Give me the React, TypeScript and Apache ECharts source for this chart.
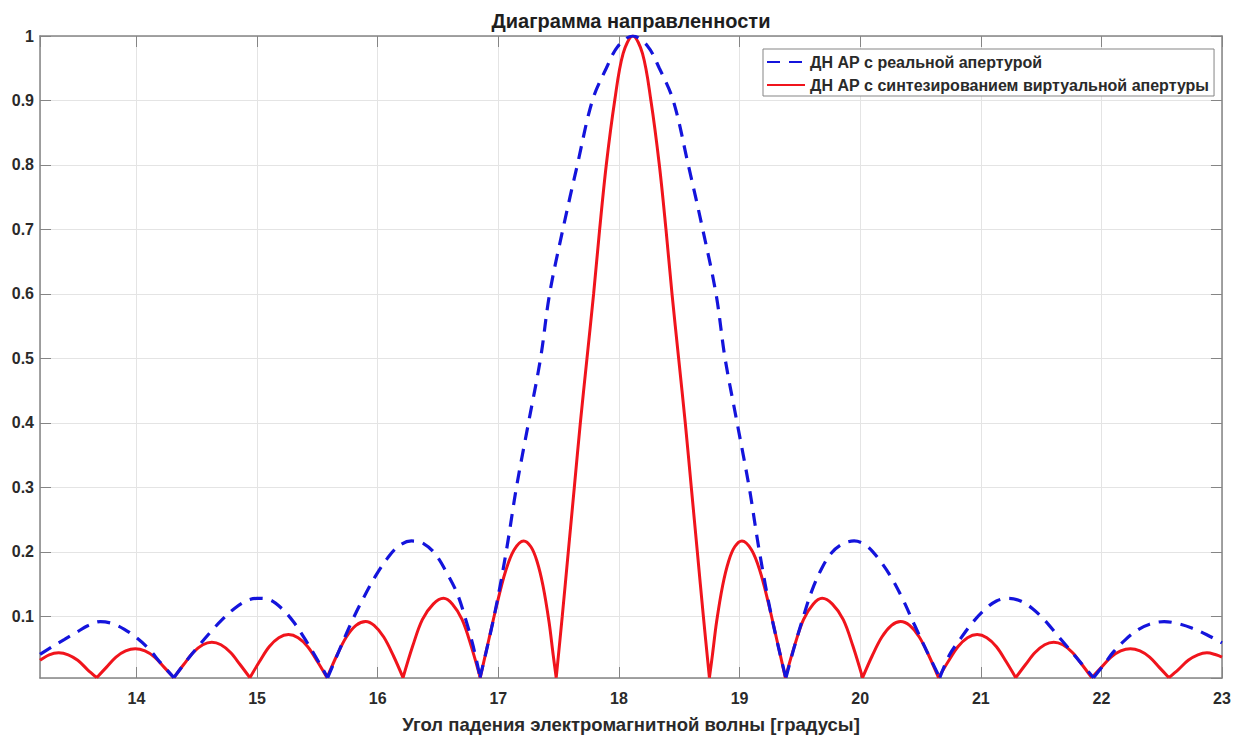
import React, { useEffect, useRef } from "react";
import * as echarts from "echarts";

type Pt = [number, number];

const FONT = "'Liberation Sans', Arial, Helvetica, sans-serif";
const AXIS_COLOR = "#858585";
const GRID_COLOR = "#e4e4e4";
const TEXT_COLOR = "#2a2a2a";

const REAL_NAME = "ДН АР с реальной апертурой";
const VIRTUAL_NAME = "ДН АР с синтезированием виртуальной апертуры";
const TITLE = "Диаграмма направленности";
const X_NAME = "Угол падения электромагнитной волны [градусы]";

// Angle range (degrees) and normalized gain range
const X_MIN = 13.2;
const X_MAX = 23;
const Y_MIN = 0.0045;
const Y_MAX = 1;

// Real aperture pattern, lobe by lobe: [angle, gain]
const realLobe1: Pt[] = [
  [13.2, 0.041], [13.3, 0.053], [13.4, 0.064], [13.5, 0.075], [13.6, 0.086], [13.7, 0.092],
  [13.8, 0.089], [13.9, 0.08], [14.0, 0.067], [14.1, 0.05], [14.2, 0.028], [14.31, 0.005],
];
const realLobe2: Pt[] = [
  [14.31, 0.005], [14.41, 0.03], [14.51, 0.053], [14.61, 0.075], [14.71, 0.095], [14.81, 0.112],
  [14.92, 0.125], [15.0, 0.128], [15.1, 0.126], [15.2, 0.113], [15.3, 0.092], [15.4, 0.064],
  [15.49, 0.036], [15.585, 0.005],
];
const realLobe3: Pt[] = [
  [15.585, 0.005], [15.68, 0.047], [15.78, 0.09], [15.88, 0.128], [15.98, 0.162], [16.08, 0.19],
  [16.18, 0.21], [16.28, 0.217], [16.38, 0.213], [16.48, 0.196], [16.58, 0.165], [16.66, 0.135],
  [16.73, 0.095], [16.79, 0.055], [16.85, 0.005],
];
const realMain: Pt[] = [
  [16.848, 0.005], [16.965, 0.1], [17.065, 0.2], [17.15, 0.3], [17.25, 0.4], [17.35, 0.5],
  [17.425, 0.6], [17.535, 0.7], [17.655, 0.8], [17.78, 0.9], [17.895, 0.95], [17.995, 0.985],
  [18.115, 1.0],
  [18.235, 0.985], [18.335, 0.95], [18.45, 0.9], [18.575, 0.8], [18.695, 0.7], [18.805, 0.6],
  [18.88, 0.5], [18.98, 0.4], [19.08, 0.3], [19.165, 0.2], [19.265, 0.1], [19.383, 0.005],
];
const realLobe3r: Pt[] = [
  [19.385, 0.005], [19.45, 0.05], [19.53, 0.1], [19.6, 0.14], [19.68, 0.174], [19.76, 0.198],
  [19.85, 0.212], [19.95, 0.217], [20.05, 0.21], [20.15, 0.19], [20.25, 0.163], [20.35, 0.128],
  [20.45, 0.087], [20.55, 0.047], [20.66, 0.005],
];
const realLobe2r: Pt[] = [
  [20.66, 0.005], [20.74, 0.04], [20.83, 0.065], [20.93, 0.09], [21.03, 0.11], [21.13, 0.124],
  [21.23, 0.128], [21.33, 0.124], [21.43, 0.112], [21.53, 0.094], [21.63, 0.072], [21.73, 0.05],
  [21.83, 0.028], [21.935, 0.005],
];
const realLobe1r: Pt[] = [
  [21.935, 0.005], [22.02, 0.025], [22.1, 0.045], [22.2, 0.064], [22.3, 0.079], [22.4, 0.088],
  [22.52, 0.092], [22.63, 0.089], [22.75, 0.082], [22.87, 0.072], [23.0, 0.059],
];

// Synthesized virtual aperture pattern, lobe by lobe: [angle, gain]
const virtLobe7: Pt[] = [
  [13.2, 0.032], [13.276, 0.0405], [13.355, 0.0435], [13.434, 0.0405], [13.513, 0.032], [13.591, 0.018], [13.67, 0.005],
];
const virtLobe6: Pt[] = [
  [13.67, 0.005], [13.75, 0.021], [13.83, 0.037], [13.91, 0.0465], [13.99, 0.05],
  [14.07, 0.0465], [14.15, 0.037], [14.23, 0.021], [14.31, 0.005],
];
const virtLobe5: Pt[] = [
  [14.31, 0.005], [14.39, 0.025], [14.47, 0.044], [14.55, 0.056], [14.625, 0.06],
  [14.7, 0.056], [14.78, 0.044], [14.86, 0.025], [14.94, 0.005],
];
const virtLobe4: Pt[] = [
  [14.94, 0.005], [15.02, 0.03], [15.1, 0.053], [15.18, 0.067], [15.26, 0.072],
  [15.34, 0.067], [15.42, 0.053], [15.5, 0.03], [15.58, 0.005],
];
const virtLobe3: Pt[] = [
  [15.58, 0.005], [15.66, 0.039], [15.74, 0.068], [15.82, 0.086], [15.9, 0.092],
  [15.97, 0.086], [16.05, 0.068], [16.13, 0.039], [16.21, 0.005],
];
const virtLobe2: Pt[] = [
  [16.21, 0.005], [16.29, 0.054], [16.37, 0.095], [16.46, 0.119], [16.545, 0.128],
  [16.62, 0.119], [16.7, 0.095], [16.775, 0.054], [16.85, 0.005],
];
const virtLobe1: Pt[] = [
  [16.85, 0.005], [16.92, 0.063], [16.99, 0.12], [17.06, 0.17], [17.13, 0.203], [17.21, 0.217],
  [17.27, 0.208], [17.32, 0.186], [17.37, 0.148], [17.42, 0.092], [17.455, 0.04], [17.48, 0.005],
];
const virtMain: Pt[] = [
  [17.48, 0.005], [17.53, 0.1], [17.58, 0.2], [17.63, 0.3], [17.68, 0.4], [17.735, 0.5],
  [17.79, 0.6], [17.84, 0.7], [17.895, 0.8], [17.965, 0.9], [18.035, 0.973], [18.115, 1.0],
  [18.195, 0.973], [18.265, 0.9], [18.335, 0.8], [18.39, 0.7], [18.44, 0.6], [18.495, 0.5],
  [18.55, 0.4], [18.6, 0.3], [18.65, 0.2], [18.7, 0.1], [18.75, 0.005],
];
const virtLobe1r: Pt[] = [
  [18.75, 0.005], [18.775, 0.04], [18.81, 0.092], [18.86, 0.148], [18.91, 0.186], [18.96, 0.208],
  [19.02, 0.217], [19.1, 0.203], [19.17, 0.17], [19.24, 0.12], [19.31, 0.063], [19.38, 0.005],
];
const virtLobe2r: Pt[] = [
  [19.38, 0.005], [19.455, 0.054], [19.53, 0.095], [19.61, 0.119], [19.685, 0.128],
  [19.77, 0.119], [19.86, 0.095], [19.94, 0.054], [20.02, 0.005],
];
const virtLobe3r: Pt[] = [
  [20.02, 0.005], [20.1, 0.039], [20.18, 0.068], [20.26, 0.086], [20.335, 0.092],
  [20.41, 0.086], [20.49, 0.068], [20.57, 0.039], [20.65, 0.005],
];
const virtLobe4r: Pt[] = [
  [20.65, 0.005], [20.73, 0.03], [20.81, 0.053], [20.89, 0.067], [20.97, 0.072],
  [21.05, 0.067], [21.13, 0.053], [21.21, 0.03], [21.29, 0.005],
];
const virtLobe5r: Pt[] = [
  [21.29, 0.005], [21.37, 0.025], [21.45, 0.044], [21.53, 0.056], [21.605, 0.06],
  [21.68, 0.056], [21.76, 0.044], [21.84, 0.025], [21.92, 0.005],
];
const virtLobe6r: Pt[] = [
  [21.92, 0.005], [22.0, 0.021], [22.08, 0.037], [22.16, 0.0465], [22.24, 0.05],
  [22.32, 0.0465], [22.4, 0.037], [22.48, 0.021], [22.56, 0.005],
];
const virtLobe7r: Pt[] = [
  [22.56, 0.005], [22.64, 0.018], [22.72, 0.032], [22.8, 0.0405], [22.875, 0.0435], [22.95, 0.0405], [23.0, 0.037],
];

const realLobes: Pt[][] = [realLobe1, realLobe2, realLobe3, realMain, realLobe3r, realLobe2r, realLobe1r];
const virtualLobes: Pt[][] = [
  virtLobe7, virtLobe6, virtLobe5, virtLobe4, virtLobe3, virtLobe2, virtLobe1, virtMain,
  virtLobe1r, virtLobe2r, virtLobe3r, virtLobe4r, virtLobe5r, virtLobe6r, virtLobe7r,
];

// Each lobe is its own smooth segment, so the nulls stay sharp
function joinLobes(lobes: Pt[][]): (number | string)[][] {
  const out: (number | string)[][] = [];
  lobes.forEach((lobe, i) => {
    if (i > 0) out.push([lobe[0][0], "-"]);
    lobe.forEach((p) => out.push([p[0], p[1]]));
  });
  return out;
}

const tickText = { fontFamily: FONT, fontSize: 16, fontWeight: "bold" as const, color: TEXT_COLOR };

export default function App() {
  const ref = useRef<HTMLDivElement>(null);

  useEffect(() => {
    if (!ref.current) return;
    const chart = echarts.init(ref.current, undefined, { renderer: "svg" });
    const axisLine = { show: true, lineStyle: { color: AXIS_COLOR, width: 1.5 } };
    const axisTick = { show: true, inside: true, length: 11, lineStyle: { color: AXIS_COLOR, width: 1 } };

    chart.setOption({
      animation: false,
      backgroundColor: "#ffffff",
      grid: { left: 40, right: 12, top: 36, bottom: 57, containLabel: false },
      graphic: [
        {
          type: "text",
          x: 631,
          y: 21,
          style: {
            text: TITLE,
            align: "center",
            verticalAlign: "middle",
            fontFamily: FONT,
            fontSize: 20,
            fontWeight: "bold",
            fill: "#1e1e1e",
          },
        },
      ],
      legend: {
        data: [REAL_NAME, VIRTUAL_NAME],
        orient: "vertical",
        left: 763,
        top: 49,
        itemWidth: 38,
        itemHeight: 14,
        itemGap: 7,
        padding: [5, 5, 3, 3],
        borderColor: AXIS_COLOR,
        borderWidth: 1,
        borderRadius: 0,
        backgroundColor: "#ffffff",
        itemStyle: { opacity: 0 },
        textStyle: { fontFamily: FONT, fontSize: 16, fontWeight: "bold", color: TEXT_COLOR },
      },
      xAxis: [
        {
          type: "value",
          min: X_MIN,
          max: X_MAX,
          splitNumber: 10,
          axisLine,
          axisTick,
          axisLabel: { ...tickText, margin: 12, showMinLabel: false },
          splitLine: { show: true, lineStyle: { color: GRID_COLOR, width: 1 } },
          name: X_NAME,
          nameLocation: "middle",
          nameGap: 37,
          nameTextStyle: { fontFamily: FONT, fontSize: 18.5, fontWeight: "bold", color: TEXT_COLOR },
        },
        {
          type: "value",
          position: "top",
          min: X_MIN,
          max: X_MAX,
          splitNumber: 10,
          axisLine,
          axisTick,
          axisLabel: { show: false },
          splitLine: { show: false },
        },
      ],
      yAxis: [
        {
          type: "value",
          min: Y_MIN,
          max: Y_MAX,
          splitNumber: 10,
          axisLine,
          axisTick,
          axisLabel: { ...tickText, margin: 6, showMinLabel: false },
          splitLine: { show: true, lineStyle: { color: GRID_COLOR, width: 1 } },
        },
        {
          type: "value",
          position: "right",
          min: Y_MIN,
          max: Y_MAX,
          splitNumber: 10,
          axisLine,
          axisTick,
          axisLabel: { show: false },
          splitLine: { show: false },
        },
      ],
      series: [
        {
          name: VIRTUAL_NAME,
          type: "line",
          data: joinLobes(virtualLobes),
          symbol: "none",
          showSymbol: false,
          smooth: 0.35,
          connectNulls: false,
          lineStyle: { color: "#f0141c", width: 3 },
          itemStyle: { color: "#f0141c" },
          z: 2,
        },
        {
          name: REAL_NAME,
          type: "line",
          data: joinLobes(realLobes),
          symbol: "none",
          showSymbol: false,
          smooth: 0.35,
          connectNulls: false,
          lineStyle: { color: "#1414dc", width: 3.2, type: [13, 9] },
          itemStyle: { color: "#1414dc" },
          z: 3,
        },
      ],
    });

    return () => chart.dispose();
  }, []);

  return (
    <div
      ref={ref}
      style={{ position: "absolute", left: 0, top: 0, width: 1234, height: 739 }}
    />
  );
}
